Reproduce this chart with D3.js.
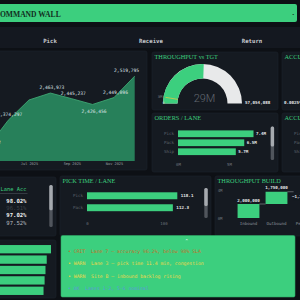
<!DOCTYPE html>
<html>
<head>
<meta charset="utf-8">
<script src="https://cdn.jsdelivr.net/npm/d3@7"></script>
<style>
  html, body { margin: 0; padding: 0; background: #0d1015; overflow: hidden; }
  svg { display: block; }
</style>
</head>
<body>
<svg id="wall" width="300" height="300"></svg>
<script>
const title = "COMMAND WALL";
const tabs = ["Pick", "Receive", "Return"];

const months = ["2025-05", "2025-06", "2025-07", "2025-08", "2025-09", "2025-10", "2025-11", "2025-12"];
const throughput = [2281562, 2374297, 2441108, 2463973, 2445237, 2426456, 2449096, 2519795];
const throughputLabelled = [true, true, false, true, true, true, true, true];

const gaugeValue = 29100000;
const gaugeTarget = 3000000;
const gaugeMax = 57054088;

const accuracyKpi = "0.0025%";

const lanes = ["Pick", "Pack", "Ship"];
const ordersPerLane = [7420000, 6510000, 5680000];

const laneAcc = [98.02, 96.51, 97.02, 97.52];

const pickLanes = ["Pick", "Pack"];
const pickTime = [118.1, 112.3];

const buildSteps = ["Inbound", "Outbound", "Pending"];
const buildDeltas = [2000000, 1750000, -1250000];
const buildTicks = [0, 4000000];

const siteBars = [512, 488, 481, 476, 470];

const alertLevels = ["CRIT", "WARN", "WARN", "OK"];
const alertTexts = [
  "Lane 7 \u2014 accuracy 96.2%, below 98% SLA",
  "Lane 3 \u2014 pick time 11.4 min, congestion",
  "Site B \u2014 inbound backlog rising",
  "Lanes 1-2, 5-6 nominal"
];

// ---- look ----
const GREEN = "#3ccf7e";
const CARD = "#151a21";
const MONO = "'DejaVu Sans Mono', monospace";
const SERIF = "'Liberation Serif', serif";
const levelColor = { CRIT: "#c4702c", WARN: "#ecd64a", OK: "#5b9bd8" };

const svg = d3.select("#wall");

function card(x, y, w, h, label) {
  svg.append("rect").attr("x", x).attr("y", y).attr("width", w).attr("height", h)
    .attr("rx", 2).attr("fill", CARD).attr("stroke", "#1d232b").attr("stroke-width", 0.6);
  if (label) {
    svg.append("text").attr("x", x + 2.5).attr("y", y + 7.2)
      .attr("fill", GREEN).attr("font-family", SERIF).attr("font-size", 6.3).text(label);
  }
}

function scrollbar(x, y, h) {
  svg.append("rect").attr("x", x).attr("y", y).attr("width", 3.4).attr("height", h)
    .attr("rx", 1.5).attr("fill", "#50555c");
  svg.append("rect").attr("x", x).attr("y", y).attr("width", 3.4).attr("height", h * 0.6)
    .attr("rx", 1.5).attr("fill", "#a6aaaf");
}

// header
svg.append("rect").attr("x", -5).attr("y", 4).attr("width", 302).attr("height", 18)
  .attr("rx", 2).attr("fill", GREEN);
svg.append("text").attr("x", -5.6).attr("y", 16.6).attr("fill", "#12301f")
  .attr("font-family", SERIF).attr("font-weight", "bold").attr("font-size", 7.6).text(title);
svg.append("text").attr("x", 294.5).attr("y", 16).attr("text-anchor", "end").attr("fill", "#12301f")
  .attr("font-family", MONO).attr("font-size", 4).text("\u2022");

// tabs
svg.append("rect").attr("x", -5).attr("y", 27).attr("width", 310).attr("height", 21).attr("fill", "#141820");
const tabX = d3.scalePoint().domain(tabs).range([50, 252]);
svg.selectAll(".tab").data(tabs).join("text")
  .attr("x", d => tabX(d)).attr("y", 43).attr("text-anchor", "middle")
  .attr("fill", "#c9ccd1").attr("font-family", MONO).attr("font-weight", "bold").attr("font-size", 5.7)
  .text(d => d);

// ---- throughput area ----
card(-5, 51, 152, 119);
const dates = months.map(d3.utcParse("%Y-%m"));
const pts = dates.map((d, i) => ({ date: d, value: throughput[i], i }));
const xT = d3.scaleUtc().domain([dates[0], dates[dates.length - 1]]).range([-13.2, 134.7]);
const yT = d3.scaleLinear().domain([2240000, 2540000]).range([161, 70]);

svg.append("path").datum(pts).attr("fill", "#27805a")
  .attr("d", d3.area().x(d => xT(d.date)).y0(yT.range()[0]).y1(d => yT(d.value)));
svg.append("path").datum(pts).attr("fill", "none").attr("stroke", "#3ea673").attr("stroke-width", 0.9)
  .attr("d", d3.line().x(d => xT(d.date)).y(d => yT(d.value)));

const fmtInt = d3.format(",");
pts.filter(d => throughputLabelled[d.i]).forEach(d => {
  const n = throughput.length;
  const dip = d.i > 0 && d.i < n - 1 && d.value < throughput[d.i - 1] && d.value < throughput[d.i + 1];
  const t = svg.append("text").attr("text-anchor", "middle")
    .attr("y", dip ? yT(d.value) + 8.5 : yT(d.value) - 4)
    .attr("fill", "#dfe2e5").attr("font-family", MONO).attr("font-size", 4.6)
    .text(fmtInt(d.value));
  const w = t.node().getComputedTextLength();
  t.attr("x", Math.min(xT(d.date) + 1.5, 139 - w / 2));
});

const gxT = svg.append("g").attr("transform", "translate(0,160)")
  .call(d3.axisBottom(xT).ticks(d3.utcMonth.every(2)).tickFormat(d3.utcFormat("%b %Y")).tickSize(0).tickPadding(2.5));
gxT.select(".domain").remove();
gxT.selectAll("text").attr("fill", "#9aa0a6").attr("font-family", MONO).attr("font-size", 3.6);

// ---- throughput vs target gauge ----
card(152, 52, 126, 58, "THROUGHPUT vs TGT");
const gcx = 202.5, gcy = 103.5, rIn = 25, rOut = 39.5;
const ang = d3.scaleLinear().domain([0, gaugeMax]).range([-Math.PI / 2, Math.PI / 2]);
const arc = d3.arc().innerRadius(rIn).outerRadius(rOut);
const gauge = svg.append("g").attr("transform", `translate(${gcx},${gcy})`);
gauge.append("path").attr("fill", "#e8e9ea").attr("d", arc({ startAngle: ang(0), endAngle: ang(gaugeMax) }));
gauge.append("path").attr("fill", GREEN).attr("d", arc({ startAngle: ang(0), endAngle: ang(gaugeValue) }));
const ta = ang(gaugeTarget);
gauge.append("line")
  .attr("x1", rIn * Math.sin(ta)).attr("y1", -rIn * Math.cos(ta))
  .attr("x2", (rOut - 2) * Math.sin(ta)).attr("y2", -(rOut - 2) * Math.cos(ta))
  .attr("stroke", "#d8c547").attr("stroke-width", 0.8);
gauge.append("text").attr("x", (rOut + 3.5) * Math.sin(ta)).attr("y", -(rOut + 3.5) * Math.cos(ta) + 1.6)
  .attr("text-anchor", "middle").attr("fill", "#7d838a").attr("font-family", MONO).attr("font-size", 3.8)
  .text(d3.format(".1s")(gaugeTarget));
gauge.append("text").attr("x", -rOut + 0.5).attr("y", 0.6).attr("text-anchor", "middle")
  .attr("fill", "#c9ccd1").attr("font-family", MONO).attr("font-size", 3.4).text("0");
gauge.append("text").attr("x", rOut + 3).attr("y", 0.6)
  .attr("fill", "#e2e4e6").attr("font-family", MONO).attr("font-weight", "bold").attr("font-size", 4.2)
  .text(fmtInt(gaugeMax));
gauge.append("text").attr("x", 2).attr("y", -1.5).attr("text-anchor", "middle")
  .attr("fill", "#626870").attr("font-family", "Roboto, sans-serif").attr("font-weight", 300).attr("font-size", 11)
  .text(d3.format(".2s")(gaugeValue));

card(282, 52, 30, 58, "ACCURACY TREND");
svg.append("text").attr("x", 284).attr("y", 103.5).attr("fill", "#e2e4e6")
  .attr("font-family", MONO).attr("font-weight", "bold").attr("font-size", 4.2).text(accuracyKpi);

// ---- orders / lane ----
card(152, 113, 126, 59, "ORDERS / LANE");
const xO = d3.scaleLinear().domain([0, d3.max(ordersPerLane)]).range([178, 253.5]);
const yO = d3.scaleBand().domain(lanes).range([129.5, 156]).paddingInner(0.25).paddingOuter(0.1);
svg.selectAll(".obar").data(lanes).join("rect")
  .attr("x", xO(0)).attr("y", d => yO(d)).attr("height", yO.bandwidth())
  .attr("width", (d, i) => xO(ordersPerLane[i]) - xO(0)).attr("fill", GREEN);
svg.selectAll(".olab").data(lanes).join("text")
  .attr("x", xO(0) - 4).attr("y", d => yO(d) + yO.bandwidth() / 2 + 1.4).attr("text-anchor", "end")
  .attr("fill", "#5f656d").attr("font-family", MONO).attr("font-size", 4.2).text(d => d);
svg.selectAll(".oval").data(lanes).join("text")
  .attr("x", (d, i) => xO(ordersPerLane[i]) + 2.5).attr("y", d => yO(d) + yO.bandwidth() / 2 + 1.5)
  .attr("fill", "#e2e4e6").attr("font-family", MONO).attr("font-weight", "bold").attr("font-size", 4.2)
  .text((d, i) => d3.format(".1f")(ordersPerLane[i] / 1e6) + "M");
const gxO = svg.append("g").attr("transform", "translate(0,160)")
  .call(d3.axisBottom(xO).ticks(2).tickFormat(d => d / 1e6 + "M").tickSize(0).tickPadding(3));
gxO.select(".domain").remove();
gxO.selectAll("text").attr("fill", "#6d737b").attr("font-family", MONO).attr("font-size", 4);
scrollbar(270.7, 126.5, 33.5);

card(282, 113, 30, 59, "ACCURACY / LANE");
svg.selectAll(".alab").data(lanes).join("text")
  .attr("x", 282 + (xO(0) - 4 - 152)).attr("y", d => yO(d) + yO.bandwidth() / 2 + 1.4).attr("text-anchor", "end")
  .attr("fill", "#5f656d").attr("font-family", MONO).attr("font-size", 4.2).text(d => d);

// ---- lane accuracy table ----
card(-5, 177, 61, 59);
svg.append("text").attr("x", 26.5).attr("y", 190.5).attr("text-anchor", "end")
  .attr("fill", GREEN).attr("font-family", MONO).attr("font-size", 5.4).text("Lane Acc");
svg.append("line").attr("x1", -5).attr("x2", 27.5).attr("y1", 193.5).attr("y2", 193.5)
  .attr("stroke", "#4a5059").attr("stroke-width", 0.6);
const yA = d3.scalePoint().domain(d3.range(laneAcc.length)).range([201, 222.5]);
svg.selectAll(".acc").data(laneAcc).join("text")
  .attr("x", 26.5).attr("y", (d, i) => yA(i) + 2).attr("text-anchor", "end")
  .attr("font-family", MONO).attr("font-size", 5.6)
  .attr("font-weight", (d, i) => i % 2 === 0 ? "bold" : "normal")
  .attr("fill", (d, i) => i % 2 === 0 ? "#f1f2f3" : (d < 97 ? "#3e434a" : "#b9bdc2"))
  .text(d => d3.format(".2f")(d) + "%");
scrollbar(49.3, 185, 42);

// ---- pick time / lane ----
card(60, 176, 151, 60, "PICK TIME / LANE");
const xP = d3.scaleLinear().domain([0, d3.max(pickTime)]).range([87, 177.3]);
const yP = d3.scaleBand().domain(pickLanes).range([190.5, 213]).paddingInner(0.42).paddingOuter(0.15);
svg.selectAll(".pbar").data(pickLanes).join("rect")
  .attr("x", xP(0)).attr("y", d => yP(d)).attr("height", yP.bandwidth())
  .attr("width", (d, i) => xP(pickTime[i]) - xP(0)).attr("fill", GREEN);
svg.selectAll(".plab").data(pickLanes).join("text")
  .attr("x", xP(0) - 4).attr("y", d => yP(d) + yP.bandwidth() / 2 + 1.4).attr("text-anchor", "end")
  .attr("fill", "#5f656d").attr("font-family", MONO).attr("font-size", 4.2).text(d => d);
svg.selectAll(".pval").data(pickLanes).join("text")
  .attr("x", (d, i) => xP(pickTime[i]) + 3.5).attr("y", d => yP(d) + yP.bandwidth() / 2 + 1.5)
  .attr("fill", "#e2e4e6").attr("font-family", MONO).attr("font-weight", "bold").attr("font-size", 4.2)
  .text((d, i) => d3.format(".1f")(pickTime[i]));
const gxP = svg.append("g").attr("transform", "translate(0,219)")
  .call(d3.axisBottom(xP).ticks(1).tickSize(0).tickPadding(3));
gxP.select(".domain").remove();
gxP.selectAll("text").attr("fill", "#6d737b").attr("font-family", MONO).attr("font-size", 4);
scrollbar(204.3, 188, 30);

// ---- throughput build (waterfall) ----
card(215, 176, 95, 60, "THROUGHPUT BUILD");
let run = 0;
const steps = buildSteps.map((s, i) => {
  const start = run; run += buildDeltas[i];
  return { step: s, start, end: run, delta: buildDeltas[i] };
});
const xB = d3.scaleBand().domain(buildSteps).range([234.5, 318.5]).paddingInner(0.22).paddingOuter(0.11);
const yB = d3.scaleLinear().domain([0, 4500000]).range([218, 186.5]);
svg.selectAll(".bbar").data(steps).join("rect")
  .attr("x", d => xB(d.step)).attr("width", xB.bandwidth())
  .attr("y", d => yB(Math.max(d.start, d.end)))
  .attr("height", d => Math.abs(yB(d.start) - yB(d.end)))
  .attr("fill", d => d.delta >= 0 ? GREEN : "#151a21");
steps.slice(0, -1).forEach((d, i) => {
  svg.append("line").attr("x1", xB(d.step) + xB.bandwidth()).attr("x2", xB(steps[i + 1].step))
    .attr("y1", yB(d.end)).attr("y2", yB(d.end)).attr("stroke", "#a9adb2").attr("stroke-width", 0.5);
});
svg.selectAll(".bval").data(steps).join("text")
  .attr("x", d => xB(d.step) + xB.bandwidth() / 2).attr("y", d => yB(d.end) - 2.5).attr("text-anchor", "middle")
  .attr("fill", "#e2e4e6").attr("font-family", MONO).attr("font-weight", "bold").attr("font-size", 4.2)
  .text(d => fmtInt(d.delta));
const gyB = svg.append("g").attr("transform", "translate(224,0)")
  .call(d3.axisLeft(yB).tickValues(buildTicks).tickFormat(d => d / 1e6 + "M").tickSize(0).tickPadding(1.5));
gyB.select(".domain").remove();
gyB.selectAll("text").attr("fill", "#6d737b").attr("font-family", MONO).attr("font-size", 4);
const gxB = svg.append("g").attr("transform", "translate(0,220)")
  .call(d3.axisBottom(xB).tickSize(0).tickPadding(2.2));
gxB.select(".domain").remove();
gxB.selectAll("text").attr("fill", "#8a9098").attr("font-family", MONO).attr("font-size", 4.2);

// ---- site bars ----
card(-5, 240, 61, 58);
const xS = d3.scaleLinear().domain([0, d3.max(siteBars)]).range([-40, 51]);
const yS = d3.scaleBand().domain(d3.range(siteBars.length)).range([244, 296]).paddingInner(0.2).paddingOuter(0.1);
svg.selectAll(".sbar").data(siteBars).join("rect")
  .attr("x", xS(0)).attr("y", (d, i) => yS(i)).attr("height", yS.bandwidth())
  .attr("width", d => xS(d) - xS(0)).attr("fill", GREEN);

// ---- alerts ----
svg.append("rect").attr("x", 61).attr("y", 235.5).attr("width", 234).attr("height", 61.5)
  .attr("rx", 1.5).attr("fill", GREEN).attr("stroke", "#2ea865").attr("stroke-width", 0.6);
svg.append("text").attr("x", 186.7).attr("y", 242).attr("text-anchor", "middle")
  .attr("fill", "#ffffff").attr("font-family", MONO).attr("font-size", 4).text("^");
const yAl = d3.scalePoint().domain(d3.range(alertTexts.length)).range([251, 288.6]);
svg.selectAll(".alert").data(alertTexts).join("text")
  .attr("x", 68).attr("y", (d, i) => yAl(i) + 1.7)
  .attr("fill", (d, i) => levelColor[alertLevels[i]])
  .attr("font-family", MONO).attr("font-size", 4.8).attr("xml:space", "preserve")
  .text((d, i) => "\u2022 " + alertLevels[i] + "  " + d);
</script>
</body>
</html>
